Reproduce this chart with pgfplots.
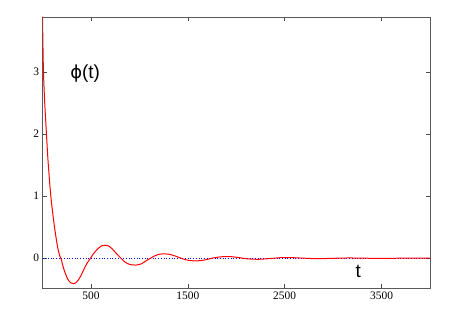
\documentclass[border=0pt]{standalone}
\usepackage{pgfplots}
\pgfplotsset{compat=1.18}
\usepackage{fontspec}
\setmainfont{Liberation Serif}
\newfontfamily\sansf{Liberation Sans}
\newfontfamily\dejav{DejaVu Sans}
\begin{document}
\begin{tikzpicture}
\path (0,0) rectangle (454bp,318bp);
\begin{axis}[
  at={(42.5bp,30bp)}, anchor=south west,
  scale only axis, width=387.5bp, height=271bp,
  xmin=0, xmax=4000, ymin=-0.48, ymax=3.89,
  xtick={500,1500,2500,3500},
  ytick={0,1,2,3},
  tick align=inside,
  major tick length=4bp,
  axis line style={black!65, line width=0.9pt},
  tick style={black!70, line width=0.6pt},
  xticklabel={\pgfmathprintnumber{\tick}},
  yticklabel={\pgfmathprintnumber{\tick}},
  ticklabel style={font=\rmfamily\fontsize{11.5}{12}\selectfont},
  /pgf/number format/assume math mode=true,
  /pgf/number format/1000 sep={},
  clip=true,
]
\addplot[blue, dotted, line width=0.7pt] coordinates {(0,0) (4000,0)};
\addplot[red, line width=1pt, smooth, tension=0.5] coordinates {
(0,3.9) (5,3.4) (10,3.0) (20,2.6) (30,2.3) (41,2.0) (55,1.62) (70,1.3) (86,1.0)
(100,0.8) (120,0.55) (140,0.33) (160,0.15) (180,0.03) (190,0.0) (210,-0.12)
(230,-0.22) (250,-0.30) (270,-0.36) (290,-0.395) (315,-0.41) (340,-0.40)
(370,-0.35) (400,-0.27) (430,-0.17) (460,-0.08) (495,0.0) (530,0.08) (570,0.15)
(610,0.20) (645,0.21) (680,0.20) (720,0.15) (760,0.08) (810,0.0) (850,-0.06)
(900,-0.10) (965,-0.11) (1020,-0.09) (1070,-0.04) (1115,0.0) (1160,0.04)
(1210,0.065) (1265,0.07) (1320,0.06) (1380,0.03) (1430,0.0) (1480,-0.025)
(1540,-0.04) (1595,-0.042) (1650,-0.035) (1710,-0.015) (1750,0.0) (1800,0.015)
(1860,0.025) (1910,0.028) (1970,0.022) (2030,0.01) (2070,0.0) (2120,-0.01)
(2180,-0.016) (2230,-0.017) (2290,-0.012) (2350,-0.004) (2390,0) (2450,0.008)
(2550,0.011) (2650,0.004) (2710,0) (2780,-0.005) (2870,-0.007) (2960,-0.003)
(3030,0) (3100,0.003) (3190,0.004) (3290,0.001) (3350,0) (3420,-0.002)
(3510,-0.0025) (3600,-0.001) (3670,0) (3750,0.001) (3830,0.0012) (3920,0.0005)
(4000,0)
};
\node[font=\sansf\fontsize{19}{20}\selectfont] at (axis cs:440,2.98) {{\dejav\fontsize{18}{20}\selectfont ϕ}(t)};
\node[font=\sansf\fontsize{19}{20}\selectfont] at (axis cs:3260,-0.22) {t};
\end{axis}
\end{tikzpicture}
\end{document}
